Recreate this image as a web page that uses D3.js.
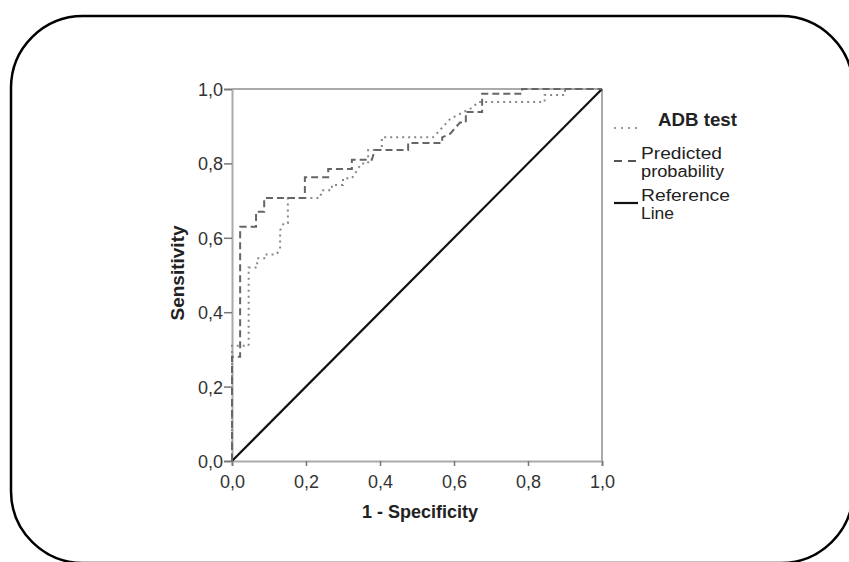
<!DOCTYPE html>
<html><head><meta charset="utf-8">
<script src="https://cdn.jsdelivr.net/npm/d3@7"></script>
<style>body{margin:0;background:#fff}svg{display:block}</style>
</head><body>
<script>
const xTicks = [0,0.2,0.4,0.6,0.8,1.0];
const yTicks = [0,0.2,0.4,0.6,0.8,1.0];
const tickLabels = ["0,0","0,2","0,4","0,6","0,8","1,0"];
// ADB test (dotted) ROC points: [1-specificity, sensitivity]
const adbFpr = [0,0,0.045,0.045,0.068,0.068,0.09,0.09,0.12,0.13,0.13,0.14,0.151,0.151,0.238,0.243,0.27,0.27,0.3,0.3,0.324,0.35,0.368,0.368,0.405,0.405,0.543,0.553,0.59,0.6,0.65,0.665,0.845,0.845,0.9,0.9,1];
const adbTpr = [0,0.31,0.31,0.52,0.52,0.545,0.545,0.555,0.555,0.57,0.62,0.64,0.64,0.707,0.707,0.728,0.728,0.742,0.742,0.76,0.76,0.8,0.8,0.836,0.836,0.87,0.87,0.88,0.92,0.925,0.95,0.965,0.965,0.984,0.984,1,1];
// Predicted probability (dashed)
const predFpr = [0,0,0.022,0.022,0.065,0.065,0.087,0.087,0.197,0.197,0.26,0.26,0.324,0.324,0.378,0.386,0.476,0.476,0.568,0.568,0.59,0.616,0.632,0.632,0.676,0.676,0.784,0.784,1];
const predTpr = [0,0.28,0.28,0.63,0.63,0.67,0.67,0.707,0.707,0.763,0.763,0.785,0.785,0.81,0.81,0.836,0.836,0.855,0.855,0.87,0.88,0.91,0.91,0.938,0.938,0.987,0.987,1,1];
const refFpr = [0,1];
const refTpr = [0,1];
const legendItems = ["ADB test","Predicted probability","Reference Line"];

const W=849,H=562;
const svg=d3.select("body").append("svg").attr("width",W).attr("height",H);
// rounded frame
svg.append("rect").attr("x",11).attr("y",16).attr("width",842).attr("height",547)
  .attr("rx",72).attr("ry",72).attr("fill","#fff").attr("stroke","#000").attr("stroke-width",2.5);

const x=d3.scaleLinear().domain([0,1]).range([232,602]);
const y=d3.scaleLinear().domain([0,1]).range([461,89]);
const font="'Liberation Sans', Arial, sans-serif";

// plot frame (top/right)
svg.append("line").attr("x1",x(0)).attr("x2",x(1)).attr("y1",y(1)).attr("y2",y(1)).attr("stroke","#aaa").attr("stroke-width",2);
svg.append("line").attr("x1",x(1)).attr("x2",x(1)).attr("y1",y(0)).attr("y2",y(1)).attr("stroke","#aaa").attr("stroke-width",2);

const xAxis=svg.append("g").attr("transform",`translate(0,${y(0)})`)
  .call(d3.axisBottom(x).tickValues(xTicks).tickSize(5).tickFormat((d,i)=>tickLabels[i]));
const yAxis=svg.append("g").attr("transform",`translate(${x(0)},0)`)
  .call(d3.axisLeft(y).tickValues(yTicks).tickSize(8).tickFormat((d,i)=>tickLabels[i]));
[xAxis,yAxis].forEach(g=>{
  g.select(".domain").attr("stroke","#aaa").attr("stroke-width",2);
  g.selectAll(".tick line").attr("stroke","#777").attr("stroke-width",1.5);
  g.selectAll("text").attr("font-family",font).attr("font-size",18).attr("fill","#333");
});
xAxis.selectAll("text").attr("dy","0").attr("y",27);
yAxis.selectAll("text").attr("x",-9).attr("dy","0.36em");

const line=d3.line().x(d=>x(d[0])).y(d=>y(d[1]));
const toPts=(a,b)=>a.map((v,i)=>[v,b[i]]);
svg.append("path").attr("d",line(toPts(refFpr,refTpr))).attr("fill","none").attr("stroke","#111").attr("stroke-width",2.2);
svg.append("path").attr("d",line(toPts(adbFpr,adbTpr))).attr("fill","none").attr("stroke","#888").attr("stroke-width",2).attr("stroke-dasharray","2,4");
svg.append("path").attr("d",line(toPts(predFpr,predTpr))).attr("fill","none").attr("stroke","#666").attr("stroke-width",2).attr("stroke-dasharray","7,4");

// axis titles
svg.append("text").attr("x",420).attr("y",518).attr("text-anchor","middle").attr("font-family",font)
  .attr("font-size",18).attr("font-weight","bold").attr("fill","#222").text("1 - Specificity");
svg.append("text").attr("transform","translate(184,273) rotate(-90)").attr("text-anchor","middle").attr("font-family",font)
  .attr("font-size",19).attr("font-weight","bold").attr("fill","#222").text("Sensitivity");

// legend
const lg=svg.append("g");
const lt=(txt,xx,yy,w,bold)=>lg.append("text").attr("x",xx).attr("y",yy).attr("font-family",font)
  .attr("font-size",bold?18.5:16).attr("font-weight",bold?"bold":"normal").attr("fill","#222")
  .attr("textLength",w).attr("lengthAdjust","spacingAndGlyphs").text(txt);
lg.append("line").attr("x1",614).attr("x2",637).attr("y1",128).attr("y2",128).attr("stroke","#999").attr("stroke-width",2).attr("stroke-dasharray","2,5");
lt(legendItems[0],658,126,79,true);
lg.append("line").attr("x1",614).attr("x2",638).attr("y1",161).attr("y2",161).attr("stroke","#555").attr("stroke-width",2).attr("stroke-dasharray","8,6");
lt("Predicted",641,159,81,false);
lt("probability",641,177,83,false);
lg.append("line").attr("x1",614).attr("x2",638).attr("y1",203).attr("y2",203).attr("stroke","#111").attr("stroke-width",2.2);
lt("Reference",641,201,89,false);
lt("Line",641,219,33,false);
</script>
</body></html>
